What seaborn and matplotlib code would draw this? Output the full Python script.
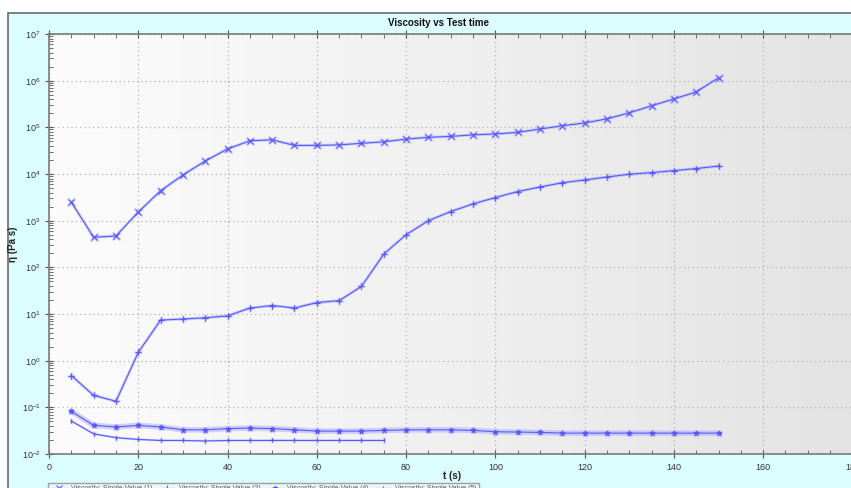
import numpy as np
import pandas as pd
import matplotlib
matplotlib.use("Agg")
import matplotlib.pyplot as plt
import matplotlib.ticker as mticker
from matplotlib.patches import Rectangle
import seaborn as sns

# Viscosity readings (Pa s) against test time (s)
t_long = [5, 10, 15, 20, 25, 30, 35, 40, 45, 50, 55, 60, 65, 70, 75,
          80, 85, 90, 95, 100, 105, 110, 115, 120, 125, 130, 135, 140, 145, 150]
t_short = [5, 10, 15, 20, 25, 30, 35, 40, 45, 50, 55, 60, 65, 70, 75]

eta_1 = [2500, 440, 470, 1530, 4370, 9500, 19000, 34400, 51500, 54000,
         41000, 41000, 42000, 45500, 49000, 56000, 61000, 64000, 69000, 72000,
         78000, 92000, 108000, 124000, 152000, 204000, 290000, 405000, 575000, 1150000]
eta_2 = [0.48, 0.18, 0.135, 1.5, 7.4, 7.8, 8.3, 9.1, 13.4, 15.2,
         13.4, 17.6, 19.3, 39, 192, 500, 1000, 1570, 2290, 3130,
         4200, 5270, 6500, 7450, 8600, 9900, 10700, 11800, 13100, 14800]
eta_4 = [0.082, 0.041, 0.038, 0.041, 0.038, 0.033, 0.033, 0.035, 0.036, 0.035,
         0.033, 0.031, 0.031, 0.031, 0.032, 0.033, 0.033, 0.033, 0.032, 0.030,
         0.0295, 0.029, 0.028, 0.028, 0.028, 0.028, 0.028, 0.028, 0.028, 0.028]
eta_5 = [0.051, 0.027, 0.0224, 0.0205, 0.0195, 0.0195, 0.019, 0.0195, 0.0195,
         0.0195, 0.0195, 0.0195, 0.0195, 0.0195, 0.0195]

series_names = ["Viscosity: Single Value (1)", "Viscosity: Single Value (2)",
                "Viscosity: Single Value (4)", "Viscosity: Single Value (5)"]
x_ticks = [0, 20, 40, 60, 80, 100, 120, 140, 160, 180]

sns.set_style("ticks")
plt.rcParams["font.family"] = ["Liberation Sans", "DejaVu Sans"]
plt.rcParams["mathtext.fontset"] = "custom"
plt.rcParams["mathtext.rm"] = "Liberation Sans"

W, H = 851, 488
fig = plt.figure(figsize=(W / 100, H / 100), dpi=100)
fig.patch.set_facecolor("white")

# cyan panel with dark border, drawn beneath the axes
panel = Rectangle((8 / W, -0.05), 1.1, 1 - 13 / H + 0.05, transform=fig.transFigure,
                  facecolor="#DCFDFD", edgecolor="#6A6A6A", linewidth=1.2, zorder=-10)
fig.patches.append(panel)

ax = fig.add_axes([49 / W, (H - 454) / H, 190 * 4.4635 / W, 420 / H])
ax.set_zorder(1)
ax.set_yscale("log")
ax.set_xlim(0, 190)
ax.set_ylim(1e-2, 1e7)

# horizontal white-to-grey gradient behind the data
grad = np.linspace(252, 226, 256).reshape(1, -1) / 255.0
ax.imshow(np.dstack([grad, grad, grad]), extent=[0, 1, 0, 1], transform=ax.transAxes,
          aspect="auto", zorder=0, interpolation="bilinear")

core = "#5858FF"
halo = "#A8A8FF"

# (data, marker, marker size, halo width)
frames = [
    (pd.DataFrame({"t": t_long, "eta": eta_1}), "x", 4.5, 2.2),
    (pd.DataFrame({"t": t_long, "eta": eta_2}), "+", 4.5, 2.2),
    (pd.DataFrame({"t": t_long, "eta": eta_4}), "*", 3.5, 4.0),
    (pd.DataFrame({"t": t_short, "eta": eta_5}), "|", 2.5, 1.6),
]

handles = []
for (df, mk, ms, hw), name in zip(frames, series_names):
    sns.lineplot(data=df, x="t", y="eta", ax=ax, color=halo, linewidth=hw, alpha=0.5,
                 marker=mk, markersize=ms + 1.5, markeredgewidth=1.8, markeredgecolor=halo,
                 zorder=2, legend=False)
    sns.lineplot(data=df, x="t", y="eta", ax=ax, color=core, linewidth=0.8,
                 marker=mk, markersize=ms, markeredgewidth=0.8, markeredgecolor=core,
                 zorder=3, legend=False)
    handles.append(ax.lines[-1])

ax.grid(True, which="major", color="#B4B4B4", linestyle=(0, (1, 2.5)), linewidth=0.9)
for ln in ax.get_xgridlines() + ax.get_ygridlines():
    ln.set_zorder(1)

ax.set_xticks(x_ticks)
ax.xaxis.set_minor_locator(mticker.MultipleLocator(5))
ax.yaxis.set_major_locator(mticker.LogLocator(base=10, numticks=12))
ax.yaxis.set_minor_locator(mticker.LogLocator(base=10, subs=np.arange(2, 10), numticks=12))
ax.yaxis.set_minor_formatter(mticker.NullFormatter())
ax.tick_params(axis="both", which="major", direction="inout", length=6, width=0.8,
               color="#555555", labelsize=6.5, labelcolor="#333333")
ax.tick_params(axis="both", which="minor", direction="in", length=3, width=0.6, color="#555555")
ax.tick_params(axis="x", top=True, which="both")
ax.tick_params(axis="y", pad=3)

for side in ["left", "bottom", "top"]:
    ax.spines[side].set_color("#7A7A7A")
    ax.spines[side].set_linewidth(1.2)
ax.spines["right"].set_visible(False)

ax.set_xlabel("t (s)", fontsize=7, fontweight="bold", color="#222222")
ax.set_ylabel("η (Pa s)", fontsize=7, fontweight="bold", color="#222222")
ax.xaxis.set_label_coords((452 - 49) / (190 * 4.4635), -(471 - 454) / 420)
ax.yaxis.set_label_coords(-(49 - 18) / (190 * 4.4635), 0.5)

fig.text(438 / W, 1 - 23 / H, "Viscosity vs Test time", ha="center", va="center",
         fontsize=7, fontweight="bold", color="#111111")

leg = fig.legend(handles, series_names, loc="upper left", bbox_to_anchor=(48 / W, 1 - 483 / H),
                 ncol=4, fontsize=5, frameon=True, handlelength=2.4, columnspacing=0.8,
                 handletextpad=0.6, borderpad=0.35, borderaxespad=0.0, fancybox=False)
leg.get_frame().set_facecolor("#F2F6F6")
leg.get_frame().set_edgecolor("#8A8A8A")
for txt in leg.get_texts():
    txt.set_color("#555555")

fig.savefig("out.png", dpi=100)
